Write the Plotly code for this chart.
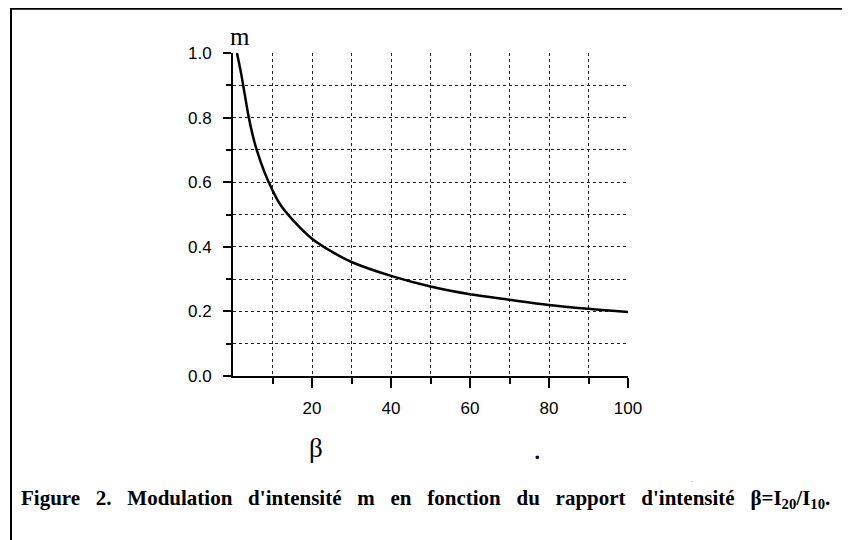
import plotly.graph_objects as go

beta = [1, 2, 3, 4, 5, 6, 8, 10, 12, 15, 20, 25, 30, 40, 50, 60, 70, 80, 90, 100]
m = [1.0, 0.94, 0.87, 0.80, 0.745, 0.70, 0.63, 0.575, 0.53, 0.485, 0.425, 0.385,
     0.353, 0.31, 0.277, 0.253, 0.236, 0.22, 0.208, 0.198]

x_major = [20, 40, 60, 80, 100]
x_minor = [10, 30, 50, 70, 90]
y_major = [0.0, 0.2, 0.4, 0.6, 0.8, 1.0]
y_labels = ["0.0", "0.2", "0.4", "0.6", "0.8", "1.0"]
y_minor = [0.1, 0.3, 0.5, 0.7, 0.9]

words = ["Figure", "2.", "Modulation", "d'intensité", "m", "en", "fonction", "du",
         "rapport", "d'intensité", "β=I<sub>20</sub>/I<sub>10</sub>."]
gap = "\u00a0" * 3
caption = "<b>" + gap.join(words) + "</b>"

W, H = 850, 540
OFF = 8  # page body margin
L, R, T, B = 233 - OFF, 628 - OFF, 53 - OFF, 376 - OFF


def px(x):
    return (x - OFF - L) / (R - L)


def py(y):
    return (B - (y - OFF)) / (B - T)


fig = go.Figure()
fig.add_trace(go.Scatter(x=beta, y=m, mode="lines", line=dict(color="black", width=2.5),
                         line_shape="spline", cliponaxis=False, showlegend=False))

grid = dict(showgrid=True, gridcolor="#222", gridwidth=1, griddash="dot")
fig.update_xaxes(range=[0, 100], tickmode="array", tickvals=x_major,
                 ticks="outside", ticklen=10, tickwidth=2, tickcolor="black",
                 showline=True, linecolor="black", linewidth=2, zeroline=False,
                 tickfont=dict(family="Liberation Sans", size=17, color="black"),
                 ticklabelstandoff=6,
                 minor=dict(tickmode="array", tickvals=x_minor, ticks="outside", ticklen=6,
                            tickwidth=2, tickcolor="black", **grid),
                 **grid)
fig.update_yaxes(range=[0, 1], tickmode="array", tickvals=y_major, ticktext=y_labels,
                 ticks="outside", ticklen=8, tickwidth=2, tickcolor="black",
                 showline=True, linecolor="black", linewidth=2, zeroline=False,
                 tickfont=dict(family="Liberation Sans", size=17, color="black"),
                 ticklabelstandoff=8,
                 minor=dict(tickmode="array", tickvals=y_minor, ticks="outside", ticklen=5,
                            tickwidth=2, tickcolor="black", **grid),
                 **grid)

ann = dict(xref="paper", yref="paper", showarrow=False, xanchor="center", yanchor="middle")
fig.add_annotation(text="m", x=px(240), y=py(36),
                   font=dict(family="Liberation Serif", size=25, color="black"), **ann)
fig.add_annotation(text="β", x=px(316), y=py(448),
                   font=dict(family="Liberation Serif", size=27, color="black"), **ann)
fig.add_annotation(text="•", x=px(537), y=py(457),
                   font=dict(family="Liberation Sans", size=13, color="black"), **ann)
fig.add_annotation(text="·", x=px(692), y=py(481),
                   font=dict(family="Liberation Sans", size=8, color="#777"), **ann)
fig.add_annotation(text=caption, x=px(425), y=py(499),
                   font=dict(family="Liberation Serif", size=21, color="black"), **ann)

# outer frame
fig.add_shape(type="line", xref="paper", yref="paper", x0=px(10), x1=px(860),
              y0=py(8.5), y1=py(8.5), line=dict(color="black", width=2.5))
fig.add_shape(type="line", xref="paper", yref="paper", x0=px(11), x1=px(11),
              y0=py(8), y1=py(550), line=dict(color="black", width=2))

fig.update_layout(width=W, height=H, margin=dict(l=L, r=W - R, t=T, b=H - B),
                  plot_bgcolor="white", paper_bgcolor="white")
fig.write_html("out.html")
